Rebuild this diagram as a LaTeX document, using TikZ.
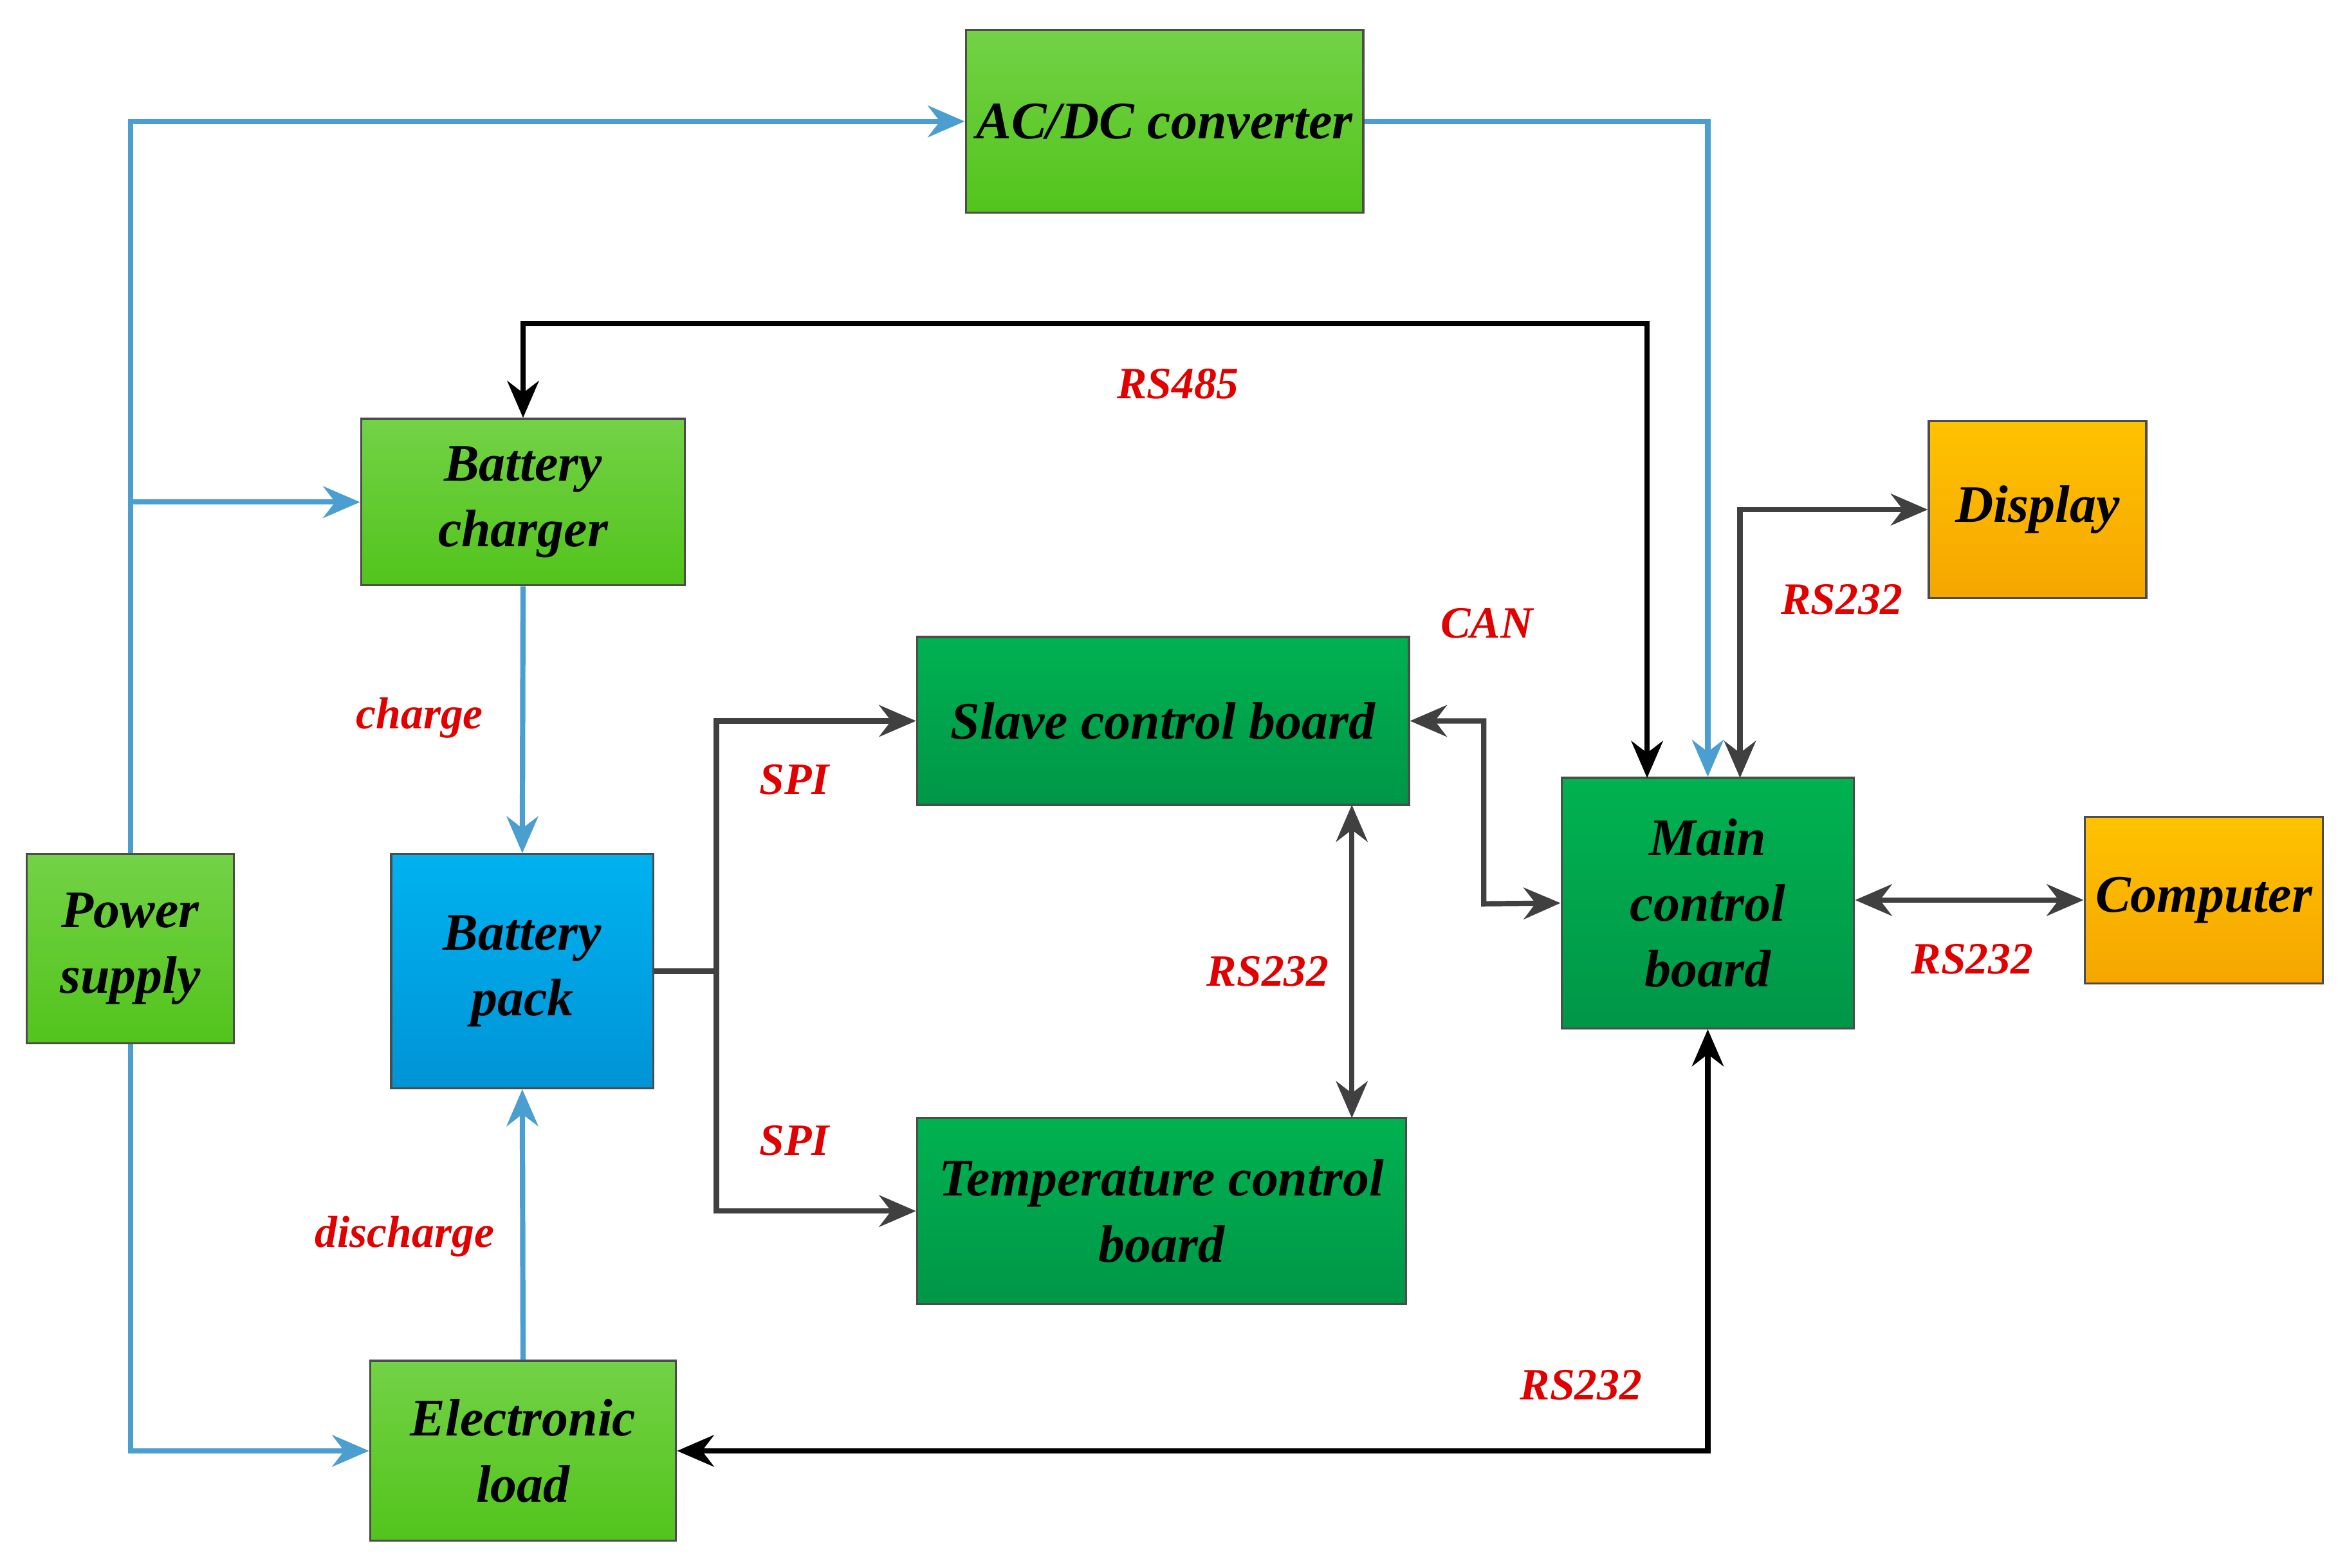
\documentclass[tikz,border=0pt]{standalone}
\usepackage{fontspec}
\setmainfont{Liberation Serif}
\usetikzlibrary{arrows.meta}
\definecolor{lblue}{HTML}{4A9FD0}
\definecolor{dgray}{HTML}{404040}
\definecolor{lred}{HTML}{E00000}
\definecolor{lgT}{RGB}{115,210,70}
\definecolor{lgB}{RGB}{82,196,28}
\definecolor{dgT}{RGB}{0,178,80}
\definecolor{dgB}{RGB}{0,150,72}
\definecolor{blT}{RGB}{0,178,240}
\definecolor{blB}{RGB}{0,148,214}
\definecolor{ogT}{RGB}{255,194,0}
\definecolor{ogB}{RGB}{245,166,0}
\begin{document}
\begin{tikzpicture}[x=0.01cm,y=-0.01cm,
 box/.style={draw=black!70,line width=0.4pt,inner sep=0pt,align=center,font=\fontsize{10}{12.5}\selectfont\bfseries\itshape},
 lg/.style={box,top color=lgT,bottom color=lgB},
 dg/.style={box,top color=dgT,bottom color=dgB},
 bl/.style={box,top color=blT,bottom color=blB},
 og/.style={box,top color=ogT,bottom color=ogB},
 tip/.style={-{Stealth[length=7pt,width=6pt]}},
 btip/.style={{Stealth[length=7pt,width=6pt]}-{Stealth[length=7pt,width=6pt]}},
 bw/.style={lblue,line width=1pt},
 gw/.style={dgray,line width=1pt},
 kw/.style={black,line width=1pt},
 lab/.style={text=lred,font=\fontsize{8.5}{10}\selectfont\bfseries\itshape}]
\useasboundingbox (0,0) rectangle (1560,1046);
\node[lg,minimum width=2.65cm,minimum height=1.22cm] (ac) at (777,81) {AC/DC converter};
\node[lg,minimum width=2.16cm,minimum height=1.11cm] (bc) at (349,335) {Battery\\charger};
\node[lg,minimum width=1.38cm,minimum height=1.26cm] (ps) at (87,633) {Power\\supply};
\node[bl,minimum width=1.75cm,minimum height=1.56cm] (bp) at (348.5,648) {Battery\\pack};
\node[lg,minimum width=2.04cm,minimum height=1.20cm] (el) at (349,968) {Electronic\\load};
\node[dg,minimum width=3.28cm,minimum height=1.12cm] (sc) at (776,481) {Slave control board};
\node[dg,minimum width=3.26cm,minimum height=1.24cm] (tc) at (775,808) {Temperature control\\board};
\node[dg,minimum width=1.95cm,minimum height=1.67cm] (mc) at (1139.5,602.5) {Main\\control\\board};
\node[og,minimum width=1.45cm,minimum height=1.18cm] (dp) at (1359.5,340) {Display};
\node[og,minimum width=1.59cm,minimum height=1.11cm] (cp) at (1470.5,600.5) {Computer};
% blue
\coordinate (j1) at (87,81);
\draw[bw,tip] (ps.north) -- (j1) -- (ac.west);
\draw[bw,tip] (87,335) -- (bc.west);
\draw[bw,tip] (ps.south) |- (el.west);
\draw[bw,tip] (ac.east) -| (mc.north);
\draw[bw,tip] (bc.south) -- (bp.north);
\draw[bw,tip] (el.north) -- (bp.south);
% black
\draw[kw,btip] (bc.north) |- (1099,216) -- (1099,519);
\draw[kw,btip] (el.east) -| (mc.south);
% gray
\coordinate (sp) at (478,648);
\draw[gw] (bp.east) -- (sp);
\draw[gw,tip] (sp) |- (sc.west);
\draw[gw,tip] (sp) |- (tc.west);
\draw[gw,btip] (sc.east) -| (990,603) -- (mc.west);
\draw[gw,btip] (902,537) -- (902,746);
\draw[gw,btip] (1161,519) |- (dp.west);
\draw[gw,btip] (mc.east |- cp.west) -- (cp.west);
% labels
\node[lab] (l1) at (786,256) {RS485};
\node[lab] (l2) at (992,416) {CAN};
\node[lab] (l3) at (1229,400) {RS232};
\node[lab] (l4) at (280,479) {charge};
\node[lab] (l5) at (530,520) {SPI};
\node[lab] (l6) at (530,761) {SPI};
\node[lab] (l7) at (846,648) {RS232};
\node[lab] (l8) at (1316,640) {RS232};
\node[lab] (l9) at (270,825) {discharge};
\node[lab] (l10) at (1055,924) {RS232};
\end{tikzpicture}
\end{document}
